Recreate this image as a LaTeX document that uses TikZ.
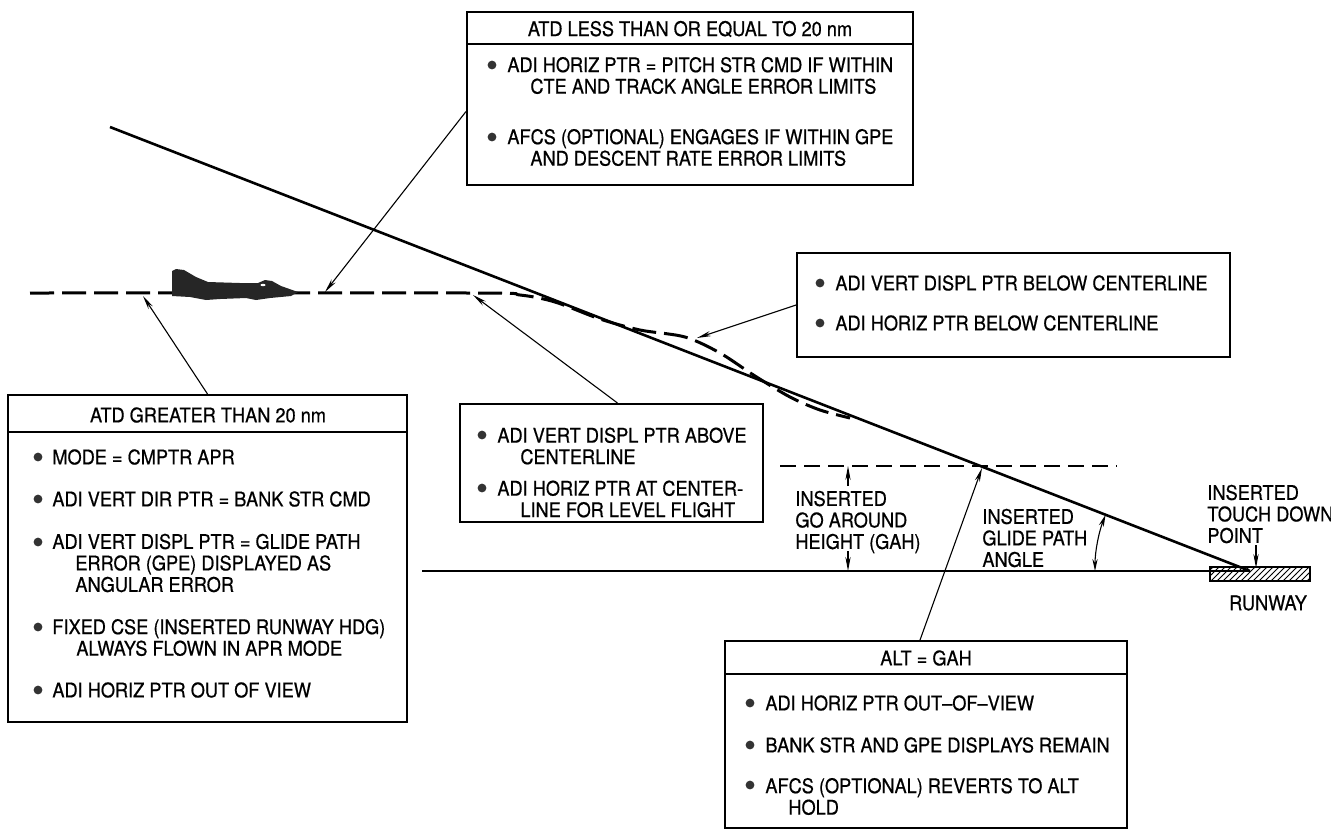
\documentclass[tikz,border=0pt]{standalone}
\usepackage{fontspec}
\setmainfont{TeX Gyre Heros}[FakeStretch=0.9, FakeBold=0.6]
\usetikzlibrary{arrows.meta,patterns}

\tikzset{
  box/.style={draw, line width=1pt, inner sep=0pt},
  dot/.style={circle, fill=black!80, inner sep=0pt, minimum size=4.4pt},
  txt/.style={anchor=west, align=left, inner sep=0pt, font=\fontsize{10.1}{10.75}\selectfont},
  head/.style={inner sep=0pt, font=\fontsize{10.1}{10.75}\selectfont},
  ptr/.style={-{Stealth[length=7pt,width=2.6pt]}, line width=0.55pt},
  flight/.style={line width=1.5pt, dash pattern=on 12pt off 4pt},
}

\begin{document}
\begin{tikzpicture}[x=0.5pt, y=-0.5pt]
\useasboundingbox (0,0) rectangle (1331,832);

% glide path, ground and runway
\coordinate (gpstart) at (110,127);
\coordinate (td) at (1250,571);
\draw[line width=1.3pt] (gpstart) -- (td);
\draw[line width=0.7pt] (422,571) -- (td);
\draw[line width=0.6pt, pattern=north east lines] (1210,567) rectangle (1310,581);
\node[head] (rwy) at (1268,603) {RUNWAY};

% flight path: level, then capturing the glide path
\draw[flight] plot[smooth, tension=0.5] coordinates {(30,293) (470,293) (520,295) (555,302) (600,319) (640,330) (685,337) (720,353) (755,376) (790,397) (820,410) (850,418)};

% aircraft
\fill[black!85] (172,296) -- (172,271) -- (176,269) -- (184,270) -- (196,277) -- (208,282)
  -- (240,283) -- (258,283) -- (265,280) -- (272,281) -- (281,286) -- (298,292)
  -- (291,296) -- (270,298) -- (256,300) -- (246,298) -- (220,299) -- (206,300) -- (190,297) -- cycle;
\fill[white] (263,285) ellipse (2.5 and 1.2);

% go around height
\draw[line width=0.6pt, dash pattern=on 8pt off 4pt] (780,466) -- (1117,466);
\coordinate (gaht) at (848,466);
\coordinate (gahb) at (848,571);
\draw[ptr] ([yshift=-10pt]gaht) -- (gaht);
\draw[ptr] ([yshift=10pt]gahb) -- (gahb);
\node[txt] (gahlbl) at (795,522) {INSERTED\\GO AROUND\\HEIGHT (GAH)};

% glide path angle
\draw[{Stealth[length=6pt,width=2.6pt]}-{Stealth[length=6pt,width=2.6pt]}, line width=0.55pt]
  ([xshift=-77.5pt]td) arc[start angle=180, end angle=158.76, radius=77.5pt];
\node[txt] (gpalbl) at (982,538) {INSERTED\\GLIDE PATH\\ANGLE};

% touch down point
\node[txt] (tdlbl) at (1207,514) {INSERTED\\TOUCH DOWN\\POINT};
\coordinate (tdtop) at (1256,545);
\coordinate (tdpt) at (1256,568);
\draw[ptr] (tdtop) -- (tdpt);

% ATD <= 20 nm
\node[box, minimum width=223pt, minimum height=86.5pt] (lebox) at (690,98.5) {};
\draw[line width=1pt] ([yshift=-16.5pt]lebox.north west) -- ([yshift=-16.5pt]lebox.north east);
\node[head] (lehead) at (690,29) {ATD LESS THAN OR EQUAL TO 20 nm};
\node[dot] at (492,65) {};
\node[txt] (le1) at (507,75.5) {ADI HORIZ PTR = PITCH STR CMD IF WITHIN\\\hspace*{11.5pt}CTE AND TRACK ANGLE ERROR LIMITS};
\node[dot] at (492,137) {};
\node[txt] (le2) at (507,147.5) {AFCS (OPTIONAL) ENGAGES IF WITHIN GPE\\\hspace*{11.5pt}AND DESCENT RATE ERROR LIMITS};

% ATD > 20 nm
\node[box, minimum width=199.5pt, minimum height=163.5pt] (gtbox) at (207.5,558.5) {};
\draw[line width=1pt] ([yshift=-19pt]gtbox.north west) -- ([yshift=-19pt]gtbox.north east);
\node[head] (gthead) at (208,415) {ATD GREATER THAN 20 nm};
\node[dot] at (38,457) {};
\node[txt] (gt1) at (52,457) {MODE = CMPTR APR};
\node[dot] at (38,499) {};
\node[txt] (gt2) at (52,499) {ADI VERT DIR PTR = BANK STR CMD};
\node[dot] at (38,542) {};
\node[txt] (gt3) at (52,563) {ADI VERT DISPL PTR = GLIDE PATH\\\hspace*{11.5pt}ERROR (GPE) DISPLAYED AS\\\hspace*{11.5pt}ANGULAR ERROR};
\node[dot] at (38,627) {};
\node[txt] (gt4) at (52,637.5) {FIXED CSE (INSERTED RUNWAY HDG)\\\hspace*{12pt}ALWAYS FLOWN IN APR MODE};
\node[dot] at (38,690) {};
\node[txt] (gt5) at (52,690) {ADI HORIZ PTR OUT OF VIEW};

% above centerline
\node[box, minimum width=151.5pt, minimum height=59pt] (abbox) at (611.5,463) {};
\node[dot] at (482,435) {};
\node[txt] (ab1) at (497,446) {ADI VERT DISPL PTR ABOVE\\\hspace*{11.5pt}CENTERLINE};
\node[dot] at (482,488) {};
\node[txt] (ab2) at (497,499) {ADI HORIZ PTR AT CENTER-\\\hspace*{11.5pt}LINE FOR LEVEL FLIGHT};

% below centerline
\node[box, minimum width=216.5pt, minimum height=52pt] (blbox) at (1013.5,305) {};
\node[dot] at (820,283) {};
\node[txt] (bl1) at (835,283) {ADI VERT DISPL PTR BELOW CENTERLINE};
\node[dot] at (820,323) {};
\node[txt] (bl2) at (835,323) {ADI HORIZ PTR BELOW CENTERLINE};

% ALT = GAH
\node[box, minimum width=201pt, minimum height=93.5pt] (gahbox) at (926,734.5) {};
\draw[line width=1pt] ([yshift=-17pt]gahbox.north west) -- ([yshift=-17pt]gahbox.north east);
\node[head] (gahhead) at (926,658) {ALT = GAH};
\node[dot] at (750,703) {};
\node[txt] (ga1) at (765,703) {ADI HORIZ PTR OUT--OF--VIEW};
\node[dot] at (750,745) {};
\node[txt] (ga2) at (765,745) {BANK STR AND GPE DISPLAYS REMAIN};
\node[dot] at (750,785) {};
\node[txt] (ga3) at (765,796.5) {AFCS (OPTIONAL) REVERTS TO ALT\\\hspace*{11.5pt}HOLD};

% pointers onto the flight path
\coordinate (p1) at (325,292);
\coordinate (p2) at (143,296);
\coordinate (p3) at (473,295);
\coordinate (p4) at (697,338);
\coordinate (gah) at (982,468);
\draw[ptr] ([yshift=-6.5pt]lebox.west) -- (p1);
\draw[ptr] (gtbox.north) -- (p2);
\draw[ptr] ([xshift=3pt]abbox.north) -- (p3);
\draw[ptr] (blbox.west) -- (p4);
\draw[ptr] ([xshift=-3pt]gahbox.north) -- (gah);
\end{tikzpicture}
\end{document}
